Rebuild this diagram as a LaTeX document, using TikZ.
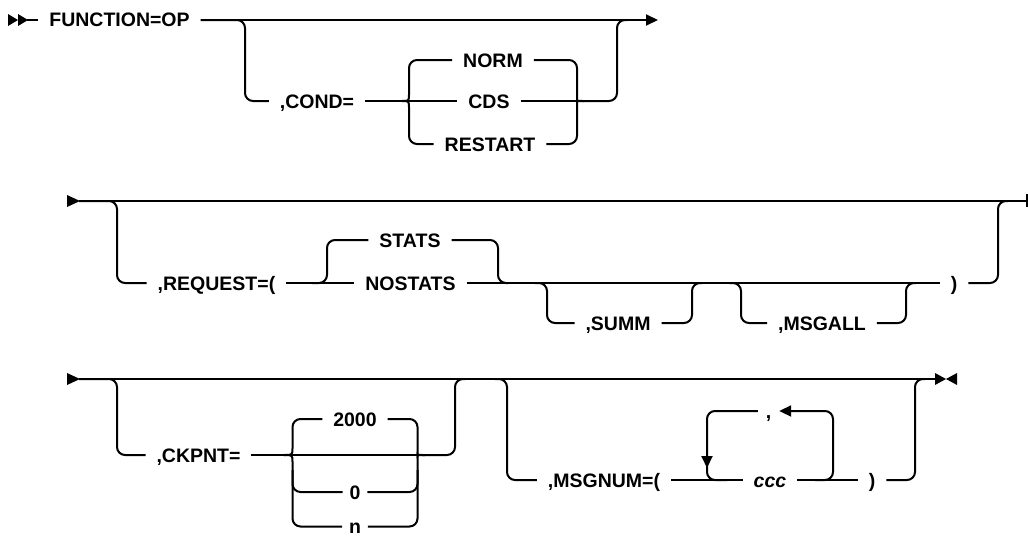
\documentclass[tikz,border=0pt]{standalone}
\usepackage{fontspec}
\setmainfont{Liberation Sans}
\usetikzlibrary{arrows.meta}
\begin{document}
\begin{tikzpicture}[x=1pt,y=-1pt,line width=2pt,
  lab/.style={font=\bfseries\fontsize{19.5}{23}\selectfont, inner xsep=10pt, inner ysep=0pt, text height=14pt, text depth=0pt},
  short/.style={inner xsep=6pt},
  rc/.style={rounded corners=8pt},
  arr/.style={-{Triangle[length=12pt,width=11pt]}}]
\useasboundingbox (0,0) rectangle (1028,538);

% ---------------- Row 1 ----------------
\fill (8,14) -- (18,20) -- (8,26) -- cycle;
\fill (18,14) -- (28,20) -- (18,26) -- cycle;
\coordinate (s1) at (27,20);
\coordinate (e1) at (658,20);
\node[lab] (func) at (119.5,20) {FUNCTION=OP};
\draw (s1) -- (func.west);
\draw[arr] (func.east) -- (e1);
\node[lab] (cond) at (317,101) {,COND=};
\draw[rc] (func.east) -| (245,101) -- (cond.west);
\coordinate (L1) at (402,101);
\coordinate (R1) at (584,101);
\node[lab] (norm) at (493,60) {NORM};
\node[lab] (cds) at (489,101) {CDS};
\node[lab] (restart) at (490,144) {RESTART};
\draw (cond.east) -- (L1);
\draw (L1) -- (cds.west);
\draw (cds.east) -- (R1);
\draw (L1) .. controls (409,101) .. (409,94) [rc] |- (norm.west);
\draw (L1) .. controls (409,101) .. (409,108) [rc] |- (restart.west);
\draw[rc] (norm.east) -| (577,94) [sharp corners] .. controls (577,101) .. (R1);
\draw[rc] (restart.east) -| (577,108) [sharp corners] .. controls (577,101) .. (R1);
\draw[rc] (R1) -| (617,20) -- (627,20);

% ---------------- Row 2 ----------------
\fill (67,195) -- (80,201) -- (67,207) -- cycle;
\coordinate (s2) at (79,201);
\coordinate (e2) at (1027,201);
\draw (s2) -- (e2);
\draw (1027,194) -- (1027,207);
\node[lab] (req) at (216.5,283) {,REQUEST=(};
\draw[rc] (s2) -| (117,283) -- (req.west);
\node[lab] (stats) at (410,240) {STATS};
\node[lab] (nostats) at (410.5,283) {NOSTATS};
\draw (req.east) -- (nostats.west);
\draw[rc] (312,283) -| (327,240) -- (stats.west);
\draw[rc] (stats.east) -| (498,283) -- (508,283);
\node[lab] (rp1) at (954,283) {)};
\draw (nostats.east) -- (rp1.west);
\draw[rc] (rp1.east) -| (998,201) -- (1008,201);
\node[lab] (summ) at (618,323) {,SUMM};
\draw[rc] (535,283) -| (547,323) -- (summ.west);
\draw[rc] (summ.east) -| (692,283) -- (702,283);
\node[lab] (msgall) at (822,323) {,MSGALL};
\draw[rc] (729,283) -| (741,323) -- (msgall.west);
\draw[rc] (msgall.east) -| (906,283) -- (916,283);

% ---------------- Row 3 ----------------
\fill (67,373) -- (80,379) -- (67,385) -- cycle;
\coordinate (s3) at (79,379);
\coordinate (e3) at (935,379);
\draw (s3) -- (e3);
\fill (935,373) -- (946,379) -- (935,385) -- cycle;
\fill (957,373) -- (946,379) -- (957,385) -- cycle;
\node[lab] (ckpnt) at (198.5,455) {,CKPNT=};
\draw[rc] (s3) -| (117,455) -- (ckpnt.west);
\coordinate (L3) at (284,455);
\coordinate (R3) at (425,455);
\draw (ckpnt.east) -- (R3);
\node[lab] (t2000) at (355,419) {2000};
\node[lab,short] (t0) at (355,492) {0};
\node[lab,short] (tn) at (355,526.5) {n};
\draw (L3) .. controls (292.5,455) .. (292.5,448) [rc] |- (t2000.west);
\draw (L3) .. controls (292.5,455) .. (292.5,462) [rc] |- (tn.west);
\draw[rc] (292.5,470) |- (t0.west);
\draw[rc] (t2000.east) -| (417.5,448) [sharp corners] .. controls (417.5,455) .. (R3);
\draw[rc] (tn.east) -| (417.5,462) [sharp corners] .. controls (417.5,455) .. (R3);
\draw[rc] (t0.east) -| (417.5,470);
\draw[rc] (R3) -| (455,379) -- (465,379);

\node[lab] (msgnum) at (604,480) {,MSGNUM=(};
\draw[rc] (495,379) -| (507,480) -- (msgnum.west);
\node[lab,font=\bfseries\itshape\fontsize{19.5}{23}\selectfont] (ccc) at (770,480) {ccc};
\draw (msgnum.east) -- (ccc.west);
\node[lab] (rp2) at (872,480) {)};
\draw (ccc.east) -- (rp2.west);
\draw[rc] (rp2.east) -| (915,379) -- (925,379);
\node[lab,inner xsep=7pt] (comma) at (768.5,411) {,};
\draw[rc,arr] (815,480) -| (833,411) -- (comma.east);
\draw[rc,arr] (comma.west) -| (707,468);
\draw[rc] (707,460) |- (727,480);
\end{tikzpicture}
\end{document}
